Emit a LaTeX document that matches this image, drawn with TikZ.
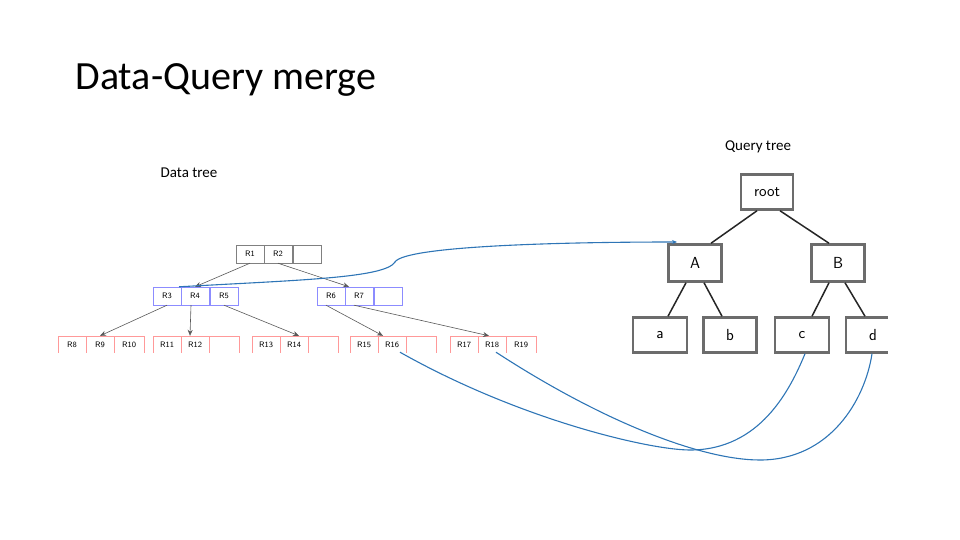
\documentclass[tikz,border=0pt]{standalone}
\usepackage{fontspec}
\setmainfont{Carlito}
\usetikzlibrary{arrows.meta}
\begin{document}
\begin{tikzpicture}[x=1pt,y=-1pt,
 cell/.style={draw=#1,minimum width=28pt,minimum height=18pt,inner sep=0pt,font=\fontsize{8}{8}\selectfont\sffamily},
 dar/.style={draw=gray!70!black,-{Stealth[length=6pt,width=5pt]},line width=0.6pt},
 qbox/.style={draw=gray!85!black,line width=2.5pt,fill=white,minimum height=34pt,font=\fontsize{16}{16}\selectfont\sffamily},
 qedge/.style={draw=black!85,line width=1.5pt},
 link/.style={draw={rgb,255:red,46;green,117;blue,182},line width=1.1pt}]
\useasboundingbox (0,0) rectangle (960,540);
\node[anchor=west,font=\fontsize{40}{40}\selectfont] (title) at (72,80) {Data-Query merge};
\node[font=\fontsize{15}{15}\selectfont] (qt) at (758,147) {Query tree};
\node[font=\fontsize{15}{15}\selectfont] (dt) at (189,173) {Data tree};
% data tree
\def\rowcells#1#2#3#4#5#6#7{%
 \node[cell=#6] (#7a) at (#1+14,#2) {#3};
 \node[cell=#6] (#7b) at (#1+42,#2) {#4};
 \node[cell=#6] (#7c) at (#1+71,#2) {#5};}
\rowcells{236}{254}{R1}{R2}{}{gray}{n1}
\rowcells{153}{296}{R3}{R4}{R5}{blue!45}{n2}
\rowcells{317}{296}{R6}{R7}{}{blue!45}{n3}
\tikzset{cell/.append style={draw=none}}
\rowcells{58}{345}{R8}{R9}{R10}{red}{l1}
\rowcells{153}{345}{R11}{R12}{}{red}{l2}
\rowcells{252}{345}{R13}{R14}{}{red}{l3}
\rowcells{350}{345}{R15}{R16}{}{red}{l4}
\rowcells{450}{345}{R17}{R18}{R19}{red}{l5}
\foreach \x in {58,153,252,350,450}{
 \draw[red!40] (\x,336) -- (\x+86,336);
 \foreach \d in {0,28,56,86} \draw[red!40] (\x+\d,336) -- (\x+\d,353);}
\draw[dar] (n1a.south) -- (n2b.north);
\draw[dar] (n1b.south) -- ([xshift=-10pt]n3b.north);
\draw[dar] (n2a.south) -- (l1b.north);
\draw[dar] ([xshift=-4pt]n2b.south) -- ([xshift=-5pt]l2b.north);
\draw[dar] (n2c.south) -- ([xshift=5pt]l3b.north);
\draw[dar] ([xshift=-5pt]n3a.south) -- ([xshift=-9pt]l4b.north);
\draw[dar] ([xshift=-5pt]n3b.south) -- ([xshift=-3pt]l5b.north);
% query tree
\node[qbox,minimum width=52pt,minimum height=35pt] (root) at (767,192) {root};
\node[qbox,minimum width=53pt,minimum height=37pt] (A) at (695,263) {A};
\node[qbox,minimum width=53pt,minimum height=37pt] (B) at (838,263) {B};
\node[qbox,minimum width=54pt,minimum height=35pt] (a) at (660,335) {a};
\node[qbox,minimum width=53pt,minimum height=35pt] (b) at (730,335) {b};
\node[qbox,minimum width=54pt,minimum height=35pt] (c) at (802,335) {c};
\node[qbox,minimum width=54pt,minimum height=35pt] (d) at (873,335) {d};
\draw[qedge] ([xshift=-10pt]root.south) -- ([xshift=16pt]A.north);
\draw[qedge] ([xshift=13pt]root.south) -- ([xshift=-9pt]B.north);
\draw[qedge] ([xshift=-9pt]A.south) -- ([xshift=8pt]a.north);
\draw[qedge] ([xshift=9pt]A.south) -- ([xshift=-8pt]b.north);
\draw[qedge] ([xshift=-9pt]B.south) -- ([xshift=10pt]c.north);
\draw[qedge] ([xshift=7pt]B.south) -- ([xshift=-8pt]d.north);
\fill[white] (888,310) rectangle (960,360);
% links
\coordinate (aend) at (677,242);
\draw[link,-{Stealth[length=5pt,width=4pt]}] ([xshift=-16pt]n2b.north) .. controls (300,280) and (385,278) .. (395,262)
 .. controls (405,246) and (560,242) .. (aend);
\draw[link] ([xshift=8pt,yshift=2pt]l4b.south) .. controls (520,420) and (650,450) .. (690,450)
 .. controls (760,450) and (790,390) .. ([xshift=3pt]c.south);
\draw[link] ([xshift=4pt,yshift=2pt]l5b.south) .. controls (600,420) and (700,460) .. (760,460)
 .. controls (830,460) and (865,400) .. ([xshift=-1pt]d.south);
\end{tikzpicture}
\end{document}
